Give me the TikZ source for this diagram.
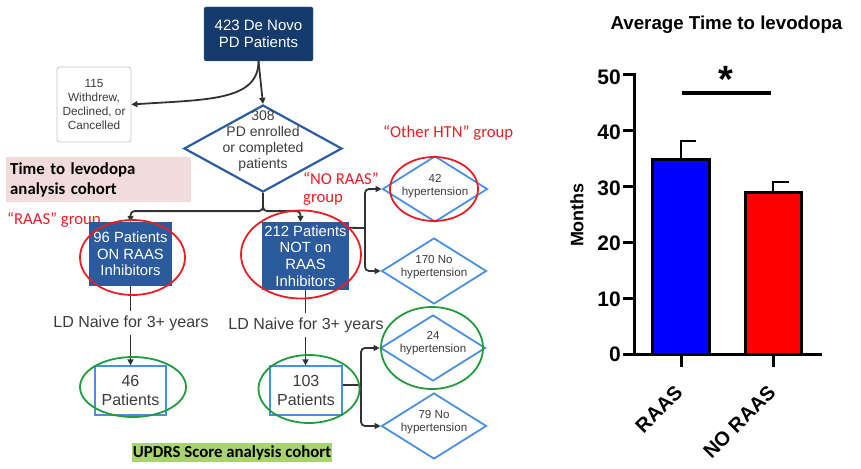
\documentclass[tikz,border=0pt]{standalone}
\usepackage{fontspec}
\setmainfont{Liberation Sans}
\newfontfamily\calib{Carlito}
\usetikzlibrary{shapes.geometric,arrows.meta,calc}

\definecolor{navy}{RGB}{21,58,108}
\definecolor{midblue}{RGB}{43,91,156}
\definecolor{diablue}{RGB}{44,93,160}
\definecolor{ltblue}{RGB}{74,144,226}
\definecolor{txtgray}{RGB}{60,60,60}
\definecolor{linegray}{RGB}{50,50,50}
\definecolor{ered}{RGB}{232,30,36}
\definecolor{egreen}{RGB}{34,155,60}
\definecolor{pinkbg}{RGB}{242,220,219}
\definecolor{greenbg}{RGB}{168,212,110}
\definecolor{barblue}{RGB}{0,0,255}
\definecolor{barred}{RGB}{255,0,0}

\begin{document}
\begin{tikzpicture}[x=1pt,y=-1pt,
  darkbox/.style={rectangle, fill=navy, draw=navy!80!white, rounded corners=1.5pt, text=white, align=center, font=\fontsize{15}{17}\selectfont, inner sep=0pt},
  bluebox/.style={rectangle, fill=midblue, text=white, align=center, font=\fontsize{14.8}{16.7}\selectfont, inner sep=0pt},
  graybox/.style={rectangle, draw=gray!45, fill=white, rounded corners=2.5pt, text=txtgray, align=center, font=\fontsize{11.8}{14}\selectfont, inner sep=0pt, line width=0.8pt},
  outbox/.style={rectangle, draw=ltblue, line width=1.3pt, fill=white, text=txtgray, align=center, font=\fontsize{16}{18.5}\selectfont, inner sep=0pt},
  bigdia/.style={diamond, draw=diablue, line width=2.2pt, inner sep=0pt, minimum width=158pt, minimum height=87pt},
  smalldia/.style={diamond, draw=ltblue, line width=1.8pt, fill=white, inner sep=0pt, minimum width=105pt, minimum height=66pt},
  diatext/.style={text=txtgray, align=center, font=\fontsize{11.6}{13.3}\selectfont, inner sep=0pt},
  redring/.style={ellipse, draw=ered, line width=1.8pt, inner sep=0pt},
  greenring/.style={ellipse, draw=egreen, line width=1.8pt, inner sep=0pt},
  arr/.style={draw=linegray, line width=1.8pt, -{Triangle[length=6pt,width=6pt]}, rounded corners=4pt},
  plainline/.style={draw=linegray, line width=1.8pt, rounded corners=4pt},
  grouplabel/.style={text=ered, font=\calib\fontsize{16.7}{18}\selectfont, align=left, inner sep=0pt},
  cohort/.style={font=\calib\bfseries\fontsize{16.8}{20}\selectfont, text=black},
  ldlabel/.style={text=txtgray, font=\fontsize{16}{18}\selectfont, inner sep=4pt},
  axlabel/.style={font=\bfseries\fontsize{21}{21}\selectfont, inner sep=0pt},
  catlabel/.style={font=\bfseries\fontsize{20}{20}\selectfont, inner sep=0pt, rotate=45, anchor=east}
]
\path[use as bounding box] (0,0) rectangle (861,468);

% ---------------- flowchart ----------------
\node[darkbox, minimum width=109pt, minimum height=54pt] (top) at (258.5,34) {423 De Novo\\PD Patients};
\node[graybox, minimum width=74pt, minimum height=75pt] (w115) at (94,104.5) {115\\Withdrew,\\Declined, or\\Cancelled};
\node[bigdia] (dia) at (263,148.5) {};
\node[text=txtgray, align=center, font=\fontsize{14}{16}\selectfont, inner sep=0pt] (diat) at (263,141.5) {308\\PD enrolled\\or completed\\patients};

\node[fill=pinkbg, text width=177pt, inner xsep=4pt, inner ysep=0pt, minimum height=45pt, align=left, cohort, anchor=north west] (pink) at (6,157) {Time to levodopa\\analysis cohort};

\node[grouplabel, anchor=west] (raasg) at (7,220) {“RAAS” group};
\node[grouplabel, anchor=west] (norg) at (303,189) {“NO RAAS”\\group};
\node[grouplabel, anchor=west] (othg) at (383,133) {“Other HTN” group};

\node[bluebox, minimum width=83pt, minimum height=64pt] (b96) at (130.5,254) {96 Patients\\ON RAAS\\Inhibitors};
\node[bluebox, minimum width=87pt, minimum height=68pt] (b212) at (305.5,256) {212 Patients\\NOT on\\RAAS\\Inhibitors};

\node[smalldia] (d42) at (435,189) {};
\node[diatext] (t42) at ($(d42)+(0,-3)$) {42\\hypertension};
\node[smalldia] (d170) at (434,271) {};
\node[diatext] (t170) at ($(d170)+(0,-4)$) {170 No\\hypertension};
\node[smalldia] (d24) at (433,348) {};
\node[diatext] (t24) at ($(d24)+(0,-5)$) {24\\hypertension};
\node[smalldia] (d79) at (434,426) {};
\node[diatext] (t79) at ($(d79)+(0,-4)$) {79 No\\hypertension};

\node[ldlabel] (ld1) at (131,323) {LD Naive for 3+ years};
\node[ldlabel] (ld2) at (306,325) {LD Naive for 3+ years};

\node[outbox, minimum width=71pt, minimum height=49pt] (b46) at (130.5,390.5) {46\\Patients};
\node[outbox, minimum width=72pt, minimum height=49pt] (b103) at (306,390.5) {103\\Patients};

\node[fill=greenbg, cohort, inner xsep=1pt, inner ysep=2pt] (updrs) at (232,452.5) {UPDRS Score analysis cohort};

% connectors
\draw[arr] (top.south) -- (dia.north);
\draw[arr] (top.south) .. controls +(0,40) and +(75,-5) .. (w115.east);
\draw[arr] (dia.south) -- ++(0,18) -| (b96.north);
\draw[arr] (dia.south) -- ++(0,18) -| ([xshift=-5pt]b212.north);

\coordinate (f1) at (365,228);
\draw[plainline] ([yshift=-6pt]b212.north east) -- (f1);
\draw[arr] (f1) |- (d42.west);
\draw[arr] (f1) |- (d170.west);

\draw[plainline] (b96.south) -- (b96.south |- ld1.north);
\draw[arr] (b96.south |- ld1.south) -- (b96.south |- b46.north);
\draw[plainline] (b212.south) -- (b212.south |- ld2.north);
\draw[arr] (b212.south |- ld2.south) -- (b212.south |- b103.north);

\coordinate (f2) at (361,385);
\draw[plainline] ([yshift=5.5pt]b103.east) -- (f2);
\draw[arr] (f2) |- (d24.west);
\draw[arr] (f2) |- (d79.west);

% highlight rings
\node[redring, minimum width=105pt, minimum height=75pt] (e96) at (132.5,257.5) {};
\node[redring, minimum width=120pt, minimum height=88pt] (e212) at (301,254.5) {};
\node[redring, minimum width=88pt, minimum height=64pt] (e42) at (434,189) {};
\node[greenring, minimum width=106pt, minimum height=60pt] (e46) at (133,387) {};
\node[greenring, minimum width=101pt, minimum height=68pt] (e103) at (309,389) {};
\node[greenring, minimum width=102pt, minimum height=82pt] (e24) at (432,348) {};

% ---------------- bar chart ----------------
\node[font=\bfseries\fontsize{18.7}{20}\selectfont, inner sep=0pt] (title) at (726.5,25) {Average Time to levodopa};

\draw[fill=barblue, line width=3pt] (652.5,354) rectangle (709.5,159.5);
\draw[fill=barred, line width=3pt] (745.5,354) rectangle (801.5,192.5);
\draw[line width=2.2pt] (681,159.5) -- (681,141);
\draw[line width=2.2pt] (680,141) -- (696,141);
\draw[line width=2.2pt] (773,192.5) -- (773,182);
\draw[line width=2.2pt] (772,182) -- (789,182);

\draw[line width=3pt] (634,73.5) -- (634,354);
\draw[line width=3pt] (623,354) -- (822,354);
\foreach \yy in {75,130.8,186.6,242.4,298.2}
  \draw[line width=3pt] (623,\yy) -- (634,\yy);
\draw[line width=3pt] (681,354) -- (681,367);
\draw[line width=3pt] (773,354) -- (773,367);

\node[axlabel, anchor=east] (l50) at (621,77) {50};
\node[axlabel, anchor=east] (l40) at (621,132.5) {40};
\node[axlabel, anchor=east] (l30) at (621,188) {30};
\node[axlabel, anchor=east] (l20) at (621,243.5) {20};
\node[axlabel, anchor=east] (l10) at (621,299) {10};
\node[axlabel, anchor=east] (l0) at (621,354.5) {0};

\node[font=\bfseries\fontsize{18}{18}\selectfont, rotate=90, inner sep=0pt] (months) at (577,215) {Months};

\node[catlabel] (craas) at (679,389) {RAAS};
\node[catlabel] (cnoraas) at (772,389) {NO RAAS};

\draw[line width=3.5pt] (682,93) -- (771,93);
\node[font=\bfseries\fontsize{38}{38}\selectfont, inner sep=0pt, anchor=north] (star) at (726,66) {*};
\end{tikzpicture}
\end{document}
